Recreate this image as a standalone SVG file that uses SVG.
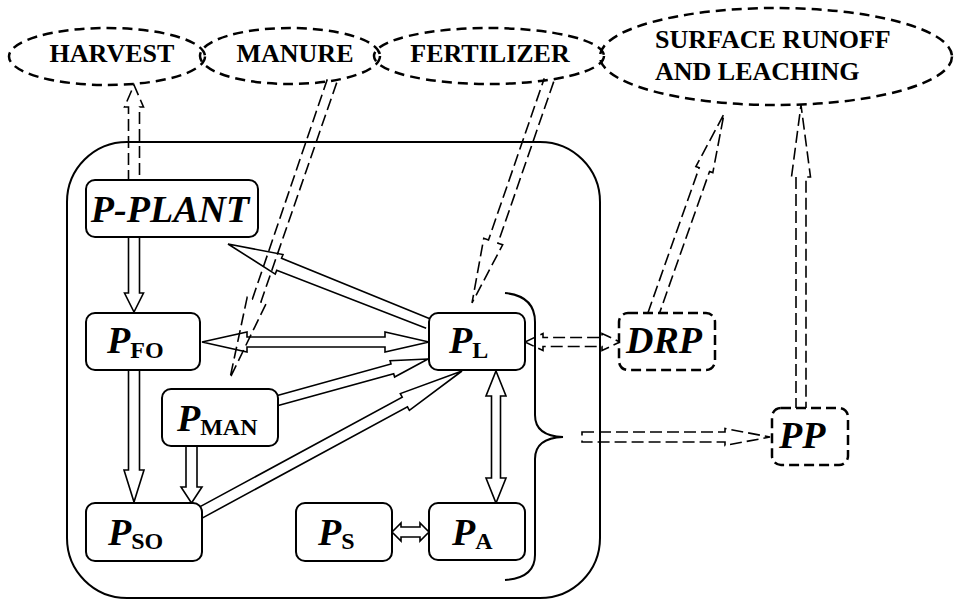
<svg xmlns="http://www.w3.org/2000/svg" width="954" height="601" viewBox="0 0 954 601">
<style>
.ell{fill:none;stroke:#000;stroke-width:2.5;stroke-dasharray:10 6}
.lbl{font-family:"Liberation Serif","Times New Roman",serif;font-weight:bold;font-size:26px;fill:#000}
.box{fill:#fff;stroke:#000;stroke-width:2}
.dbox{fill:#fff;stroke:#000;stroke-width:2.5;stroke-dasharray:10 5}
.nt{font-family:"Liberation Serif","Times New Roman",serif;font-weight:bold;font-style:italic;font-size:38px;fill:#000}
.sub{font-style:normal;font-size:24px}
.ar{fill:none;stroke:#000;stroke-width:1.6;stroke-linejoin:miter}
.da{fill:none;stroke:#000;stroke-width:1.6;stroke-dasharray:12 5}
.frame{fill:none;stroke:#000;stroke-width:2}
</style>
<rect width="954" height="601" fill="#fff"/>

<g id="harvest"><ellipse class="ell" cx="107" cy="56.5" rx="98" ry="28.5"/><text class="lbl" x="112" y="62" text-anchor="middle">HARVEST</text></g>
<g id="manure"><ellipse class="ell" cx="290" cy="56" rx="90" ry="28"/><text class="lbl" x="295" y="62" text-anchor="middle">MANURE</text></g>
<g id="fertilizer"><ellipse class="ell" cx="489" cy="56" rx="115" ry="28"/><text class="lbl" x="490" y="62" text-anchor="middle">FERTILIZER</text></g>
<g id="runoff"><ellipse class="ell" cx="776" cy="56.5" rx="176" ry="48.5"/><text class="lbl" x="655" y="48">SURFACE RUNOFF</text><text class="lbl" x="655" y="80">AND LEACHING</text></g>

<g id="soil"><rect class="frame" x="67" y="142" width="533" height="456" rx="60"/></g>
<g id="brace"><path class="frame" d="M505,293 Q535,296 535,322 L535,415 Q535,436 563,437 Q535,438 535,459 L535,555 Q535,578 505,580"/></g>

<g id="connectors">
<polyline class="da" points="128.5,182 128.5,107 124.5,107 134,85 143.5,107 139.5,107 139.5,182"/>
<polyline class="ar" points="128.5,235 128.5,293 124.5,293 134,312 143.5,293 139.5,293 139.5,235"/>
<polyline class="ar" points="128.5,368 128.5,470 124,470 134,502 144,470 139.5,470 139.5,368"/>
<polyline class="ar" points="186,444 186,487 181,487 191.5,503 202,487 197,487 197,444"/>
<polygon class="ar" points="202,342 247,332 247,337 385,337 385,332 429,342 385,352 385,347 247,347 247,352"/>
<polygon class="ar" points="496,371 506,396 500.5,396 500.5,478 506,478 496,503 486,478 491.5,478 491.5,396 486,396"/>
<polygon class="ar" points="392,532 401,523 401,527 420,527 420,523 429,532 420,541 420,537 401,537 401,541"/>
<polyline class="ar" transform="translate(428,323.5) rotate(-158.32)" points="0,-5 160.2,-6.5 160.2,-10.5 215.2,0 160.2,10.5 160.2,6.5 0,5"/>
<polyline class="ar" transform="translate(276,401) rotate(-15.45)" points="0,-5 120.7,-5 120.7,-8.5 157.7,0 120.7,8.5 120.7,5 0,5"/>
<polyline class="ar" transform="translate(200,513) rotate(-28.46)" points="0,-5.5 233,-5.5 233,-9.5 298,0 233,9.5 233,5.5 0,5.5"/>
<polyline class="da" transform="translate(332,81) rotate(108.95)" points="0,-5 232,-4.5 232,-10 314,0 232,10 232,4.5 0,5"/>
<polyline class="da" transform="translate(549,80) rotate(109.05)" points="0,-5 170.9,-5 170.9,-10 235.9,0 170.9,10 170.9,5 0,5"/>
<polyline class="da" transform="translate(653,315) rotate(-70.55)" points="0,-5.5 154.2,-5.5 154.2,-9 213.2,0 154.2,9 154.2,5.5 0,5.5"/>
<polyline class="da" points="796,410 796,177 791.5,177 801,105 810.5,177 806,177 806,410"/>
<polygon class="da" points="525,342 543,333.5 543,337.5 602,337.5 602,333.5 620,342 602,350.5 602,346.5 543,346.5 543,350.5"/>
<polygon class="da" points="582,432 725,432 725,428.5 770,437 725,445.5 725,442 582,442"/>
</g>

<g id="pplant"><rect class="box" x="86" y="180" width="172" height="57" rx="9"/><text class="nt" x="170" y="222" text-anchor="middle" font-size="37">P-PLANT</text></g>
<g id="pfo"><rect class="box" x="86" y="313" width="114" height="57" rx="9"/><text class="nt" x="107" y="353">P<tspan class="sub" dy="5">FO</tspan></text></g>
<g id="pl"><rect class="box" x="429" y="313" width="96" height="57" rx="9"/><text class="nt" x="449" y="353">P<tspan class="sub" dy="5">L</tspan></text></g>
<g id="drp"><rect class="dbox" x="619" y="313" width="96" height="57" rx="9"/><text class="nt" x="626" y="353">DRP</text></g>
<g id="pman"><rect class="box" x="162" y="389" width="116" height="57" rx="9"/><text class="nt" x="177" y="431">P<tspan class="sub" dy="4">MAN</tspan></text></g>
<g id="pp"><rect class="dbox" x="772" y="408" width="76" height="57" rx="9"/><text class="nt" x="779" y="448">PP</text></g>
<g id="pso"><rect class="box" x="86" y="503" width="116" height="58" rx="9"/><text class="nt" x="108" y="545">P<tspan class="sub" dy="4">SO</tspan></text></g>
<g id="ps"><rect class="box" x="296" y="503" width="96" height="58" rx="9"/><text class="nt" x="318" y="545">P<tspan class="sub" dy="4">S</tspan></text></g>
<g id="pa"><rect class="box" x="429" y="503" width="96" height="57" rx="9"/><text class="nt" x="452" y="545">P<tspan class="sub" dy="4">A</tspan></text></g>
</svg>
